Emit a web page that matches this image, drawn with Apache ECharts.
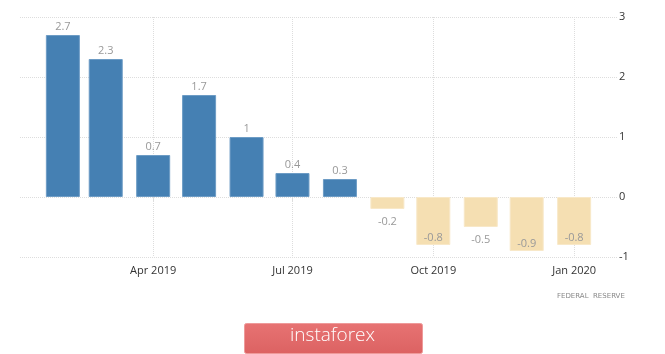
<!DOCTYPE html>
<html>
<head>
<meta charset="utf-8">
<script src="https://cdn.jsdelivr.net/npm/echarts@6/dist/echarts.min.js"></script>
<style>
  html, body { margin: 0; padding: 0; background: #fff; }
  #chart { width: 665px; height: 354px; }
</style>
</head>
<body>
<div id="chart"></div>
<script>
// months (first day) and values
var months = ['2019-02-01', '2019-03-01', '2019-04-01', '2019-05-01', '2019-06-01', '2019-07-01',
  '2019-08-01', '2019-09-01', '2019-10-01', '2019-11-01', '2019-12-01', '2020-01-01']
var values = [2.7, 2.3, 0.7, 1.7, 1, 0.4, 0.3, -0.2, -0.8, -0.5, -0.9, -0.8]
var tickDates = ['2019-04-01', '2019-07-01', '2019-10-01', '2020-01-01']
var yTicks = [-1, 0, 1, 2, 3]

var monthNames = ['Jan', 'Feb', 'Mar', 'Apr', 'May', 'Jun', 'Jul', 'Aug', 'Sep', 'Oct', 'Nov', 'Dec']
// day number (UTC) for a yyyy-mm-dd string
function dayNum(s) {
  var p = s.split('-')
  return Date.UTC(+p[0], +p[1] - 1, +p[2]) / 86400000
}

var myChart = echarts.init(document.getElementById('chart'))

var option = {
  animation: false,
  grid: { left: 20, right: 48, top: 17, bottom: 97 },
  xAxis: {
    type: 'value',
    min: dayNum('2019-01-04'),
    max: dayNum('2020-01-29'),
    axisLine: { show: false },
    axisTick: {
      show: true,
      length: 4,
      lineStyle: { color: '#ddd' },
      customValues: tickDates.map(dayNum)
    },
    axisLabel: {
      customValues: tickDates.map(dayNum),
      color: '#333',
      fontFamily: 'Open Sans',
      fontSize: 11,
      margin: 8,
      formatter: function (v) {
        var d = new Date(v * 86400000)
        return monthNames[d.getUTCMonth()] + ' ' + d.getUTCFullYear()
      }
    },
    splitLine: {
      show: true,
      lineStyle: { color: '#ddd', type: [1, 1] }
    }
  },
  yAxis: {
    type: 'value',
    position: 'right',
    min: yTicks[0],
    max: yTicks[yTicks.length - 1],
    interval: 1,
    axisLine: { show: false },
    axisTick: { show: false },
    axisLabel: {
      color: '#333',
      fontFamily: 'Open Sans',
      fontSize: 11,
      margin: 2
    },
    splitLine: {
      lineStyle: { color: '#ddd', type: [1, 1] }
    }
  },
  series: [
    {
      type: 'bar',
      barWidth: 34,
      data: months.map(function (m, i) {
        var v = values[i]
        var inside = v < -0.6
        return {
          value: [dayNum(m), v],
          itemStyle: {
            color: v >= 0 ? '#4580b3' : '#f5dfb2',
            borderColor: v >= 0 ? '#6d9cc5' : '#f8e8c8',
            borderWidth: 1
          },
          label: {
            position: v >= 0 ? 'top' : (inside ? 'insideBottom' : 'bottom'),
            distance: v >= 0 ? 3 : (inside ? 2 : 7)
          }
        }
      }),
      label: {
        show: true,
        color: '#999',
        fontFamily: 'Open Sans',
        fontSize: 11,
        formatter: function (p) { return p.value[1] }
      }
    }
  ],
  graphic: [
    {
      type: 'text',
      left: 557,
      top: 293,
      style: {
        text: 'FEDERAL  RESERVE',
        fill: '#888',
        font: '7px "DejaVu Sans"'
      }
    },
    {
      type: 'rect',
      left: 244,
      top: 323,
      shape: { width: 178, height: 30, r: 2 },
      style: {
        fill: new echarts.graphic.LinearGradient(0, 0, 0, 1, [
          { offset: 0, color: '#e77373' },
          { offset: 1, color: '#dc6262' }
        ]),
        stroke: '#ee9a9a',
        lineWidth: 1
      }
    },
    {
      type: 'text',
      left: 'center',
      top: 326,
      style: {
        text: 'instaforex',
        fill: '#fff',
        font: '300 19px "Open Sans"'
      }
    }
  ]
}

myChart.setOption(option)
</script>
</body>
</html>
